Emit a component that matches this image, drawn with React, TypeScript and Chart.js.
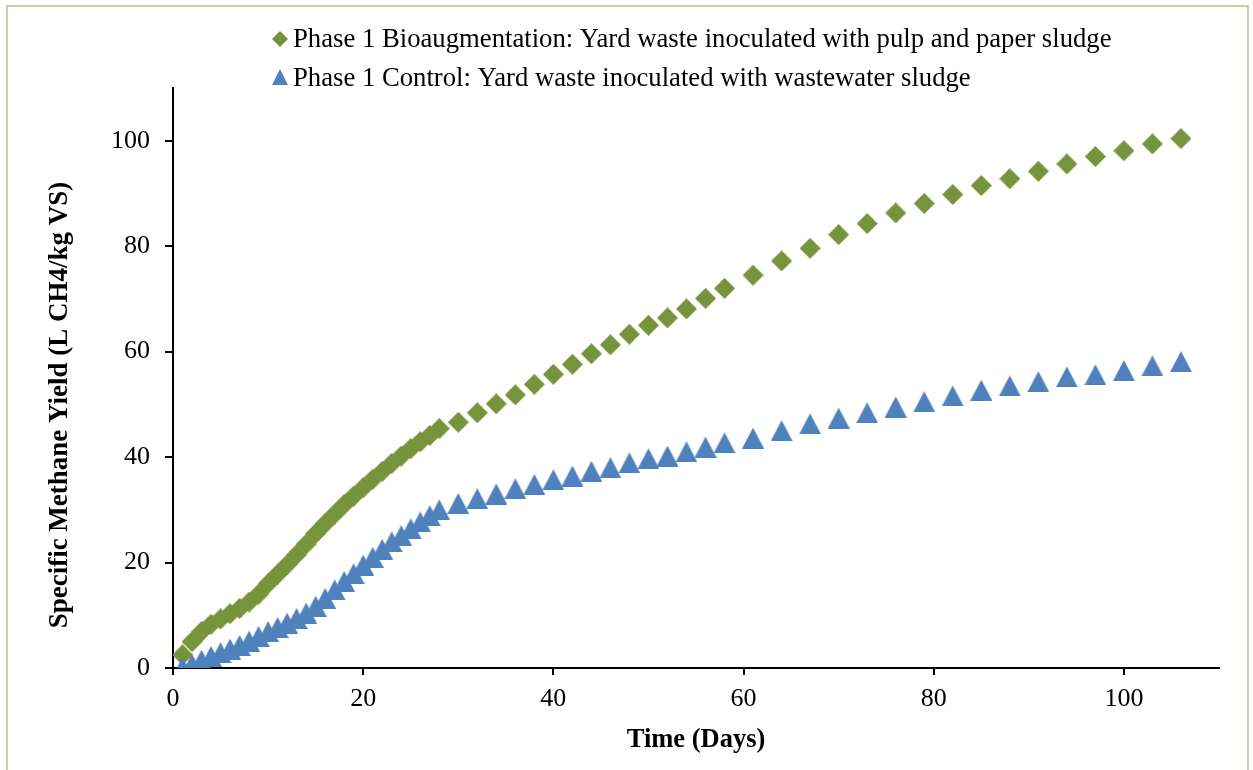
import React, { useEffect, useRef } from "react";
import { Chart, registerables } from "chart.js";

Chart.register(...registerables);

// ---- Data -------------------------------------------------------------
const days = [
  1, 2, 3, 4, 5, 6, 7, 8, 9, 10, 11, 12, 13, 14, 15, 16, 17, 18, 19, 20, 21,
  22, 23, 24, 25, 26, 27, 28, 30, 32, 34, 36, 38, 40, 42, 44, 46, 48, 50, 52,
  54, 56, 58, 61, 64, 67, 70, 73, 76, 79, 82, 85, 88, 91, 94, 97, 100, 103, 106,
];

const bioaugmentation = [
  2.5, 5.0, 6.9, 8.3, 9.3, 10.3, 11.3, 12.5, 14.0, 16.0, 17.8, 19.6, 21.5,
  23.5, 25.5, 27.4, 29.2, 31.0, 32.6, 34.2, 35.8, 37.3, 38.8, 40.2, 41.6, 42.9,
  44.1, 45.4, 46.6, 48.4, 50.1, 51.8, 53.8, 55.7, 57.6, 59.6, 61.3, 63.3, 65.0,
  66.4, 68.1, 70.1, 72.0, 74.5, 77.2, 79.6, 82.2, 84.3, 86.3, 88.1, 89.8, 91.5,
  92.8, 94.2, 95.6, 97.0, 98.1, 99.4, 100.4,
];

const control = [
  0.1, 0.7, 1.5, 2.2, 2.9, 3.6, 4.3, 5.1, 6.0, 6.9, 7.7, 8.5, 9.4, 10.4, 11.7,
  13.2, 14.8, 16.4, 17.9, 19.5, 21.0, 22.5, 23.9, 25.1, 26.4, 27.7, 28.9, 30.0,
  31.2, 32.1, 33.0, 34.0, 34.8, 35.7, 36.4, 37.3, 38.0, 38.9, 39.7, 40.2, 41.0,
  41.9, 42.7, 43.6, 45.0, 46.3, 47.4, 48.4, 49.5, 50.5, 51.6, 52.7, 53.5, 54.3,
  55.2, 55.6, 56.4, 57.3, 58.1,
];

const xTicks = [0, 20, 40, 60, 80, 100];
const yTicks = [0, 20, 40, 60, 80, 100];

const seriesLabels = [
  "Phase 1 Bioaugmentation: Yard waste inoculated with pulp and paper sludge",
  "Phase 1 Control: Yard waste inoculated with wastewater sludge",
];
const xTitle = "Time (Days)";
const yTitle = "Specific Methane Yield (L CH4/kg VS)";

// ---- Styles -----------------------------------------------------------
const GREEN = "#77933c";
const BLUE = "#4f81bd";
const FONT = "'Liberation Serif', 'Times New Roman', serif";
const W = 1253;
const H = 770;

function makeDiamond(size: number, color: string) {
  const c = document.createElement("canvas");
  c.width = size;
  c.height = size;
  const g = c.getContext("2d")!;
  g.fillStyle = color;
  g.beginPath();
  g.moveTo(size / 2, 0);
  g.lineTo(size, size / 2);
  g.lineTo(size / 2, size);
  g.lineTo(0, size / 2);
  g.closePath();
  g.fill();
  return c;
}

function makeTriangle(w: number, h: number, color: string) {
  const c = document.createElement("canvas");
  c.width = w;
  c.height = h;
  const g = c.getContext("2d")!;
  g.fillStyle = color;
  g.beginPath();
  g.moveTo(w / 2, 0);
  g.lineTo(w, h);
  g.lineTo(0, h);
  g.closePath();
  g.fill();
  return c;
}

export default function App() {
  const ref = useRef<HTMLCanvasElement | null>(null);

  useEffect(() => {
    const canvas = ref.current;
    if (!canvas) return;

    const diamond = makeDiamond(21, GREEN);
    const triangle = makeTriangle(22, 21, BLUE);
    const legendDiamond = makeDiamond(16, GREEN);
    const legendTriangle = makeTriangle(16, 16, BLUE);

    const annotationPlugin = {
      id: "customLegendAndTitle",
      afterDraw(chart: any) {
        const ctx = chart.ctx as CanvasRenderingContext2D;
        ctx.save();
        // legend
        ctx.font = `26.7px ${FONT}`;
        ctx.fillStyle = "#000";
        ctx.textBaseline = "middle";
        ctx.textAlign = "left";
        ctx.drawImage(legendDiamond, 272, 31);
        ctx.fillText(seriesLabels[0], 293, 40);
        ctx.drawImage(legendTriangle, 272, 69);
        ctx.fillText(seriesLabels[1], 293, 79);
        // y axis title
        ctx.translate(60, 405);
        ctx.rotate(-Math.PI / 2);
        ctx.textAlign = "center";
        ctx.font = `bold 27px ${FONT}`;
        ctx.fillText(yTitle, 0, 0);
        ctx.restore();
      },
    };

    const toPoints = (ys: number[]) => days.map((d, i) => ({ x: d, y: ys[i] }));

    const chart = new Chart(canvas, {
      type: "scatter",
      data: {
        datasets: [
          {
            label: seriesLabels[0],
            data: toPoints(bioaugmentation),
            pointStyle: diamond as any,
            pointRadius: 10,
            backgroundColor: GREEN,
            borderColor: GREEN,
            showLine: false,
            order: 1,
          },
          {
            label: seriesLabels[1],
            data: toPoints(control),
            pointStyle: triangle as any,
            pointRadius: 10,
            backgroundColor: BLUE,
            borderColor: BLUE,
            showLine: false,
            order: 0,
          },
        ],
      },
      options: {
        responsive: false,
        animation: false,
        devicePixelRatio: 1,
        layout: { padding: { top: 88, right: 34, left: 0, bottom: 0 } },
        plugins: {
          legend: { display: false },
          tooltip: { enabled: false },
        },
        scales: {
          x: {
            type: "linear",
            min: 0,
            max: 110,
            afterBuildTicks: (s: any) => {
              s.ticks = xTicks.map((v) => ({ value: v }));
            },
            afterFit: (s: any) => {
              s.height = H - 668;
            },
            ticks: {
              font: { family: FONT, size: 26 },
              color: "#000",
              padding: 9,
              maxRotation: 0,
              autoSkip: false,
            },
            grid: {
              display: true,
              drawOnChartArea: false,
              drawTicks: true,
              tickLength: 7,
              color: "#000",
              lineWidth: 2,
            },
            border: { display: true, color: "#000", width: 2 },
            title: {
              display: true,
              text: xTitle,
              color: "#000",
              font: { family: FONT, size: 26.5, weight: "bold" },
              padding: { top: 0, bottom: 14 },
            },
          },
          y: {
            type: "linear",
            min: 0,
            max: 110,
            afterBuildTicks: (s: any) => {
              s.ticks = yTicks.map((v) => ({ value: v }));
            },
            afterFit: (s: any) => {
              s.width = 173;
            },
            ticks: {
              font: { family: FONT, size: 26 },
              color: "#000",
              padding: 15,
              autoSkip: false,
            },
            grid: {
              display: true,
              drawOnChartArea: false,
              drawTicks: true,
              tickLength: 8,
              color: "#000",
              lineWidth: 2,
            },
            border: { display: true, color: "#000", width: 2 },
            title: { display: false },
          },
        },
      },
      plugins: [annotationPlugin],
    } as any);

    return () => chart.destroy();
  }, []);

  return (
    <div
      style={{
        position: "absolute",
        left: 0,
        top: 0,
        width: W,
        height: H,
        background: "#fff",
        overflow: "hidden",
      }}
    >
      <div
        style={{
          position: "absolute",
          left: 6,
          top: 5,
          width: W - 6 - 4,
          height: H + 10,
          borderLeft: "2px solid #c3d69b",
          borderTop: "2px solid #c3d69b",
          borderRight: "2px solid #c3d69b",
          boxSizing: "border-box",
        }}
      />
      <canvas
        ref={ref}
        width={W}
        height={H}
        style={{ position: "absolute", left: 0, top: 0, width: W, height: H }}
      />
    </div>
  );
}
